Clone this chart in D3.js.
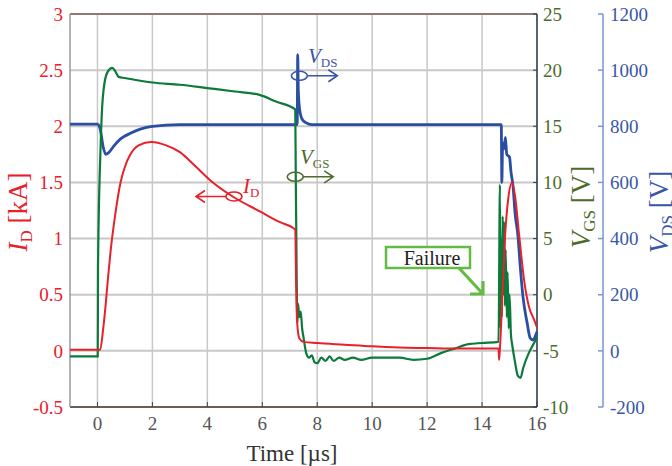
<!DOCTYPE html>
<html>
<head>
<meta charset="utf-8">
<script src="https://cdn.jsdelivr.net/npm/d3@7"></script>
<style>
  body { margin: 0; background: #fff; }
  svg { display: block; font-family: "Liberation Serif", "DejaVu Serif", serif; }
</style>
</head>
<body>
<div id="chart"></div>
<script>
// Tick values
const timeTicks = [0, 2, 4, 6, 8, 10, 12, 14, 16];
const idTicks = [-0.5, 0, 0.5, 1, 1.5, 2, 2.5, 3];
const vgsTicks = [-10, -5, 0, 5, 10, 15, 20, 25];
const vdsTicks = [-200, 0, 200, 400, 600, 800, 1000, 1200];

// Drain current I_D [kA] vs time [us]
const idSeries = [
  [-1, 0.01], [0.1, 0.01], [0.2, 0.18], [0.29, 0.39], [0.38, 0.64], [0.47, 0.87], [0.65, 1.22],
  [0.84, 1.50], [1.0, 1.64], [1.2, 1.75], [1.5, 1.83], [1.96, 1.86], [2.5, 1.83],
  [3.0, 1.77], [3.5, 1.66], [4.1, 1.52], [4.95, 1.37], [5.93, 1.24], [6.6, 1.15],
  [7.2, 1.08], [7.23, 0.6], [7.27, 0.25], [7.35, 0.11], [7.5, 0.08], [8, 0.07],
  [9, 0.055], [10, 0.04], [11, 0.03], [12, 0.025], [13, 0.02], [14.6, 0.02],
  [14.62, -0.08], [14.65, 0.02], [14.75, 0.55], [14.84, 1.03], [14.95, 1.35],
  [15.09, 1.50], [15.2, 1.38], [15.35, 1.03], [15.53, 0.63], [15.71, 0.39],
  [15.89, 0.28], [16, 0.21]
];

// Gate-source voltage V_GS [V]
const vgsSeries = [
  [-1, -5.5], [0, -5.5], [0.01, -5.5], [0.02, 2.5], [0.11, 12.9], [0.17, 16.7],
  [0.22, 18.2], [0.36, 19.8], [0.54, 20.2], [0.65, 19.9], [0.77, 19.4], [1.0, 19.3],
  [2, 18.9], [3, 18.7], [4, 18.4], [5, 18.1], [5.9, 17.8], [6.5, 17.2], [7.2, 16.5],
  [7.22, 10], [7.24, 5], [7.26, -0.5], [7.28, -2.5], [7.3, -0.8], [7.35, -2.0],
  [7.4, -1.5], [7.45, -3], [7.5, -3.8], [7.6, -5.2], [7.7, -5.6], [7.8, -5.4],
  [7.9, -6.0], [8.0, -6.1], [8.15, -5.6], [8.3, -5.9], [8.45, -5.5], [8.6, -5.9],
  [8.8, -5.6], [9.0, -5.8], [9.3, -5.6], [9.6, -5.8], [10, -5.6], [11, -5.6],
  [11.5, -5.8], [12, -5.7], [12.5, -5.2], [13, -4.8], [13.5, -4.4], [14, -4.3],
  [14.6, -4.2], [14.65, 9.8], [14.67, -3], [14.7, 5], [14.72, -2], [14.75, 7],
  [14.78, 0], [14.8, 6.5], [14.83, -1], [14.86, 4], [14.9, -2], [14.93, 2],
  [14.97, -3], [15.0, 0], [15.05, -3.5], [15.1, -4.5], [15.2, -6], [15.3, -7.2],
  [15.4, -7.4], [15.5, -6.5], [15.7, -5.2], [15.85, -4.5], [16, -3.8]
];

// Drain-source voltage V_DS [V]
const vdsSeries = [
  [-1, 808], [0, 808], [0.1, 790], [0.2, 730], [0.3, 700], [0.4, 705], [0.6, 730],
  [0.84, 755], [1.2, 775], [1.56, 790], [2, 800], [3, 806], [7.27, 806], [7.29, 1055],
  [7.31, 930], [7.36, 860], [7.45, 825], [7.6, 812], [7.8, 806], [14.7, 806],
  [14.72, 600], [14.75, 740], [14.8, 720], [14.85, 760], [14.9, 700], [15.0, 690],
  [15.05, 640], [15.13, 584], [15.2, 492], [15.31, 406], [15.38, 313], [15.49, 192],
  [15.64, 100], [15.75, 46], [15.85, 39], [15.93, 50], [16, 68]
];

const W = 672, H = 466;
const plot = { left: 70, right: 537, top: 14, bottom: 407 };

const red = "#e8202a", green = "#0b7a3b", blue = "#2a4ea3";
const olive = "#4d6b2b", blueText = "#3a56a8";

const svg = d3.select("#chart")
  .append("svg")
  .attr("width", W)
  .attr("height", H);

// Scales
const x = d3.scaleLinear().domain([-1, 16]).range([plot.left, plot.right]);
const yI = d3.scaleLinear().domain([-0.5, 3]).range([plot.bottom, plot.top]);
const yG = d3.scaleLinear().domain([-10, 25]).range([plot.bottom, plot.top]);
const yD = d3.scaleLinear().domain([-200, 1200]).range([plot.bottom, plot.top]);

// Grid lines
svg.append("g")
  .selectAll("line")
  .data(timeTicks)
  .enter()
  .append("line")
  .attr("x1", d => x(d)).attr("x2", d => x(d))
  .attr("y1", plot.top).attr("y2", plot.bottom)
  .attr("stroke", "#c8c8c8")
  .attr("stroke-width", 1.5);

svg.append("g")
  .selectAll("line")
  .data(idTicks)
  .enter()
  .append("line")
  .attr("x1", plot.left).attr("x2", plot.right)
  .attr("y1", d => yI(d)).attr("y2", d => yI(d))
  .attr("stroke", "#c8c8c8")
  .attr("stroke-width", 2);

// Frame
svg.append("line")
  .attr("x1", plot.left).attr("x2", plot.right)
  .attr("y1", plot.top).attr("y2", plot.top)
  .attr("stroke", "#7a6055").attr("stroke-width", 1.5);
svg.append("line")
  .attr("x1", plot.left).attr("x2", plot.right)
  .attr("y1", plot.bottom).attr("y2", plot.bottom)
  .attr("stroke", "#4a3a32").attr("stroke-width", 1.5);
svg.append("line")
  .attr("x1", plot.left).attr("x2", plot.left)
  .attr("y1", plot.top).attr("y2", plot.bottom)
  .attr("stroke", "#999").attr("stroke-width", 1.5);
svg.append("line")
  .attr("x1", plot.right).attr("x2", plot.right)
  .attr("y1", plot.top).attr("y2", plot.bottom)
  .attr("stroke", "#2e3d4c").attr("stroke-width", 1.5);

// Bottom ticks (inward)
svg.append("g")
  .selectAll("line")
  .data(timeTicks)
  .enter()
  .append("line")
  .attr("x1", d => x(d)).attr("x2", d => x(d))
  .attr("y1", plot.bottom - 5).attr("y2", plot.bottom)
  .attr("stroke", "#444").attr("stroke-width", 1);

// X tick labels
svg.append("g")
  .selectAll("text")
  .data(timeTicks)
  .enter()
  .append("text")
  .attr("x", d => x(d))
  .attr("y", 430)
  .attr("text-anchor", "middle")
  .attr("font-size", 19)
  .attr("fill", "#555")
  .text(d => d);

svg.append("text")
  .attr("x", 292)
  .attr("y", 461)
  .attr("text-anchor", "middle")
  .attr("font-size", 23)
  .attr("fill", "#333")
  .text("Time [µs]");

// Left axis labels (I_D)
svg.append("g")
  .selectAll("text")
  .data(idTicks)
  .enter()
  .append("text")
  .attr("x", 63)
  .attr("y", d => yI(d))
  .attr("dy", "0.35em")
  .attr("text-anchor", "end")
  .attr("font-size", 19)
  .attr("fill", red)
  .text(d => d);

// VGS axis ticks + labels
svg.append("g")
  .selectAll("line")
  .data(vgsTicks)
  .enter()
  .append("line")
  .attr("x1", plot.right - 4).attr("x2", plot.right)
  .attr("y1", d => yG(d)).attr("y2", d => yG(d))
  .attr("stroke", "#2e3d4c");

svg.append("g")
  .selectAll("text")
  .data(vgsTicks)
  .enter()
  .append("text")
  .attr("x", 543)
  .attr("y", d => yG(d))
  .attr("dy", "0.35em")
  .attr("font-size", 19)
  .attr("fill", olive)
  .text(d => d);

// VDS axis
const vdsX = 603;
svg.append("line")
  .attr("x1", vdsX).attr("x2", vdsX)
  .attr("y1", plot.top).attr("y2", plot.bottom)
  .attr("stroke", "#7b95cc").attr("stroke-width", 1.5);

svg.append("g")
  .selectAll("line")
  .data(vdsTicks)
  .enter()
  .append("line")
  .attr("x1", vdsX - 5).attr("x2", vdsX)
  .attr("y1", d => yD(d)).attr("y2", d => yD(d))
  .attr("stroke", "#7b95cc").attr("stroke-width", 1.5);

svg.append("g")
  .selectAll("text")
  .data(vdsTicks)
  .enter()
  .append("text")
  .attr("x", 610)
  .attr("y", d => yD(d))
  .attr("dy", "0.35em")
  .attr("font-size", 19)
  .attr("fill", blueText)
  .text(d => d);

// Rotated axis titles with italic symbol + subscript
function axisTitle(cx, cy, sym, sub, unit, color) {
  const t = svg.append("text")
    .attr("transform", `translate(${cx},${cy}) rotate(-90)`)
    .attr("text-anchor", "middle")
    .attr("font-size", 27)
    .attr("fill", color);
  t.append("tspan").attr("font-style", "italic").text(sym);
  t.append("tspan").attr("font-size", 17).attr("dy", 5).text(sub);
  t.append("tspan").attr("dy", -5).text(" " + unit);
}
axisTitle(27, 212, "I", "D", "[kA]", red);
axisTitle(590, 207, "V", "GS", "[V]", olive);
axisTitle(668, 212, "V", "DS", "[V]", blueText);

// Series lines
const lineOf = yScale => d3.line()
  .x(d => x(d[0]))
  .y(d => yScale(d[1]))
  .curve(d3.curveMonotoneX);

svg.append("path")
  .datum(vdsSeries)
  .attr("d", lineOf(yD))
  .attr("fill", "none")
  .attr("stroke", blue)
  .attr("stroke-width", 2.8);

svg.append("path")
  .datum(vgsSeries)
  .attr("d", lineOf(yG))
  .attr("fill", "none")
  .attr("stroke", green)
  .attr("stroke-width", 2.2);

svg.append("path")
  .datum(idSeries)
  .attr("d", lineOf(yI))
  .attr("fill", "none")
  .attr("stroke", red)
  .attr("stroke-width", 2);

// Curve annotations: ellipse + arrow pointing to the owning axis
function marker(cx, cy, dir, len, color) {
  const g = svg.append("g").attr("fill", "none").attr("stroke", color).attr("stroke-width", 1.6);
  g.append("ellipse").attr("cx", cx).attr("cy", cy).attr("rx", 8).attr("ry", 4.5);
  const x0 = cx + dir * 8, x1 = cx + dir * (8 + len);
  g.append("path")
    .attr("d", `M${x0},${cy}L${x1},${cy}M${x1 - dir * 9},${cy - 6}L${x1},${cy}L${x1 - dir * 9},${cy + 6}`);
}
function symLabel(lx, ly, sym, sub, color) {
  const t = svg.append("text")
    .attr("x", lx).attr("y", ly)
    .attr("font-size", 21)
    .attr("fill", color);
  t.append("tspan").attr("font-style", "italic").text(sym);
  t.append("tspan").attr("font-size", 13).attr("dy", 4).text(sub);
}

marker(x(4.97), yI(1.375), -1, 30, red);
symLabel(243, 193, "I", "D", red);

marker(x(7.2), yG(10.5), 1, 30, olive);
symLabel(300, 164, "V", "GS", olive);

marker(x(7.35), yD(980), 1, 30, blueText);
symLabel(308, 63, "V", "DS", blueText);

// Failure callout
const failGreen = "#64bb44";
svg.append("rect")
  .attr("x", 386).attr("y", 247)
  .attr("width", 84).attr("height", 21)
  .attr("fill", "#fff")
  .attr("stroke", failGreen)
  .attr("stroke-width", 2.5);
svg.append("text")
  .attr("x", 432).attr("y", 265)
  .attr("text-anchor", "middle")
  .attr("font-size", 20)
  .attr("fill", "#222")
  .text("Failure");
svg.append("path")
  .attr("d", "M459,268L483,294M470,294L483,294L483,281")
  .attr("fill", "none")
  .attr("stroke", failGreen)
  .attr("stroke-width", 3.2);
</script>
</body>
</html>
